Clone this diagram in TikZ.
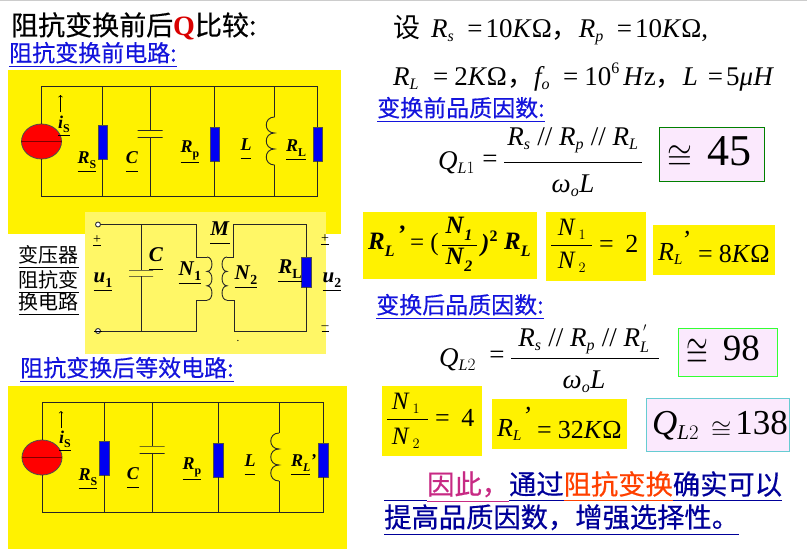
\documentclass[tikz,border=0pt]{standalone}
\usepackage{amsmath,amssymb}
\usepackage{fontspec}
\setmainfont{Liberation Serif}
\usepackage[italic]{mathastext}
\newfontfamily\cjk{Noto Sans CJK SC}
\newfontfamily\cjkm[FakeBold=0.5]{Noto Sans CJK SC}
\usetikzlibrary{shapes.geometric}
\DeclareMathSizes{25}{25}{15}{12}
\DeclareMathSizes{26}{26}{15}{12}
\DeclareMathSizes{27}{27}{16}{12}
\DeclareMathSizes{35}{35}{21}{16}
\newcommand{\sz}[1]{\fontsize{#1}{#1}\selectfont}
\newcommand{\ul}[1]{\underline{\vphantom{阻}#1}}
\newcommand{\lbl}[2]{\underline{\textbf{\textit{#1}}\raisebox{-.25em}{\sz{.66em}\textbf{#2}}}}
\newcommand{\bsub}[2]{\textbf{\textit{#1}}\raisebox{-.3em}{\sz{16}\textbf{\textit{#2}}}}
\newcommand{\apx}[3]{\raisebox{-#3}{\scalebox{#1}[#2]{\sz{10}$\cong$}}}
\newcommand{\eqs}[2]{\hspace{#1}{=}\hspace{#2}}
\definecolor{boxpink}{HTML}{FBE9FD}
\definecolor{linkblue}{HTML}{1414DC}
\tikzset{
  wire/.style={line width=1pt,draw=black!85},
  res/.style={draw=black!70,fill=blue!95!black,line width=.5pt,minimum width=9.5pt,minimum height=34pt,inner sep=0pt},
  plate/.style={draw=black!85,line width=.9pt,minimum width=25pt,minimum height=0pt,inner sep=0pt,outer sep=0pt},
  source/.style={ellipse,draw=black!70,fill=red,line width=.8pt,minimum width=40pt,minimum height=35pt,inner sep=0pt},
  port/.style={circle,draw=black!80,fill=white,line width=.9pt,minimum size=5pt,inner sep=0pt},
  head/.style={font=\cjkm\sz{23},text=linkblue,anchor=west,inner sep=0pt},
  clab/.style={font=\sz{18},inner sep=0pt},
  tlab/.style={font=\sz{21},inner sep=0pt},
  pm/.style={font=\sz{14},inner sep=0pt},
  formula/.style={font=\sz{27},inner sep=0pt,anchor=west},
  frac/.style={font=\sz{27},inner sep=0pt},
  eqn/.style={font=\sz{25},inner sep=0pt},
  eqnw/.style={font=\sz{26},inner sep=0pt,anchor=west},
  side/.style={font=\cjk\sz{20},inner sep=0pt},
  concl/.style={font=\cjkm\sz{27.3},inner sep=0pt,anchor=west,text=blue!60!black},
  yellowbg/.style={fill=yellow,draw=none},
  valbox/.style={fill=boxpink,line width=.8pt,inner sep=0pt},
  coil/.pic={\draw[wire,line width=.9pt] (0,0) .. controls (-11,0) and (-11,16) .. (0,16)
     .. controls (-11,16) and (-11,32) .. (0,32)
     .. controls (-11,32) and (-11,48) .. (0,48);},
}
\begin{document}
\begin{tikzpicture}[x=1pt,y=-1pt]
  \useasboundingbox (0,0) rectangle (807,549);
  \fill[black!20] (0,0) rectangle (807,1);
  % backgrounds
  \fill[yellowbg] (8,70) rectangle (341,234);
  \fill[yellowbg] (8,386) rectangle (347,549);
  \fill[yellow!60!white] (85,212) rectangle (326,354);
  \fill[yellowbg] (363,212) rectangle (537,279);
  \fill[yellowbg] (546,212) rectangle (646,281);
  \fill[yellowbg] (653,225) rectangle (775,275);
  \fill[yellowbg] (382,386) rectangle (482,456);
  \fill[yellowbg] (492,399) rectangle (627,449);

  % titles
  \node[anchor=west,inner sep=0pt,font=\cjkm\sz{27}] (titleA) at (11,26) {阻抗变换前后{\rmfamily\bfseries\sz{28}\textcolor{red!85!black}{Q}}比较:};
  \node[head] (headA) at (9,55) {\ul{阻抗变换前电路:}};
  \node[head] (headB) at (20,370) {\ul{阻抗变换后等效电路:}};
  \node[head] (headC) at (377,110) {\ul{变换前品质因数:}};
  \node[head] (headD) at (376,307) {\ul{变换后品质因数:}};

  % circuit before
  \coordinate (lt) at (41.5,86);
  \coordinate (rt) at (317.5,86);
  \coordinate (lb) at (41.5,196);
  \coordinate (rb) at (317.5,196);
  \node[source] (src) at (41.5,141.5) {};
  \draw[line width=1pt,draw=red!50!black] (src.west) -- (src.east);
  \node[res] (Rs) at (102.5,142) {};
  \node[plate] (Ca) at (150,130.5) {};
  \node[plate] (Cb) at (150,137.5) {};
  \node[res] (Rp) at (214.5,144) {};
  \coordinate (Lt) at (274.5,117);
  \coordinate (Lb) at (274.5,165);
  \pic at (Lt) {coil};
  \node[res] (RL) at (317.5,144) {};
  \draw[wire] (src) -- (lt) -- (rt) -- (RL);
  \draw[wire] (RL) -- (rb) -- (lb) -- (src);
  \draw[wire] (Rs |- lt) -- (Rs);
  \draw[wire] (Rs) -- (Rs |- lb);
  \draw[wire] (Ca |- lt) -- (Ca);
  \draw[wire] (Cb) -- (Cb |- lb);
  \draw[wire] (Rp |- lt) -- (Rp);
  \draw[wire] (Rp) -- (Rp |- lb);
  \draw[wire] (Lt |- lt) -- (Lt);
  \draw[wire] (Lb) -- (Lb |- lb);
  \coordinate (iA) at (60.5,112);
  \coordinate (iB) at (60.5,95);
  \draw[->,line width=.7pt] (iA) -- (iB);
  \node[clab] (labis) at (64,126) {\lbl{i}{S}};
  \node[clab] (labRs) at (87,162) {\lbl{R}{S}};
  \node[clab] (labC) at (132,162) {\lbl{C}{}};
  \node[clab] (labRp) at (190,152) {\lbl{R}{p}};
  \node[clab] (labL) at (246,149) {\lbl{L}{}};
  \node[clab] (labRL) at (296,150) {\lbl{R}{L}};

  % transformer circuit
  \node[port] (p1) at (98,224.5) {};
  \node[port] (p2) at (98,331) {};
  \coordinate (a1) at (196,224.5);
  \coordinate (a2) at (196,257);
  \coordinate (a3) at (207,257);
  \coordinate (a4) at (207,300);
  \coordinate (a5) at (196,300);
  \coordinate (a6) at (196,331);
  \node[plate,minimum width=24pt] (Cc) at (141,270) {};
  \node[plate,minimum width=24pt] (Cd) at (141,276) {};
  \draw[wire] (p1) -- (a1) -- (a2) -- (a3);
  \draw[wire] (a4) -- (a5) -- (a6) -- (p2);
  \draw[wire] (Cc |- p1) -- (Cc);
  \draw[wire] (Cd) -- (Cd |- p2);
  \pic[xscale=-.6,yscale=.9] at (a3) {coil};
  \coordinate (b1) at (233.5,224.5);
  \coordinate (b2) at (233.5,257);
  \coordinate (b3) at (227,257);
  \coordinate (b4) at (227,300);
  \coordinate (b5) at (234,300);
  \coordinate (b6) at (234,331.5);
  \coordinate (b7) at (306,224.5);
  \coordinate (b8) at (306,331.5);
  \node[res,minimum height=30pt] (RLb) at (306,272) {};
  \pic[xscale=.6,yscale=.9] at (b3) {coil};
  \draw[wire] (b3) -- (b2) -- (b1) -- (b7) -- (RLb);
  \draw[wire] (RLb) -- (b8) -- (b6) -- (b5) -- (b4);
  \node[tlab] (labM) at (220,233) {\lbl{M}{}};
  \node[tlab] (labCb) at (156,259) {\lbl{C}{}};
  \node[tlab] (labN1) at (190,273) {\lbl{N}{1}};
  \node[tlab] (labN2) at (246,277) {\lbl{N}{2}};
  \node[tlab] (labRLb) at (290,271) {\lbl{R}{L}};
  \node[tlab] (labu1) at (103,282) {\lbl{u}{1}};
  \node[tlab] (labu2) at (332,282) {\lbl{u}{2}};
  \node[pm] (plusA) at (97,241) {\underline{+}};
  \node[pm] (plusB) at (325,240) {\underline{+}};
  \node[pm] (minusB) at (325,329) {\underline{–}};
  \node[pm] (underA) at (98,331) {\underline{\hspace{8pt}}};
  \node[font=\sz{11},inner sep=0pt] (dotA) at (238,341) {.};
  \node[side] (sideA) at (49,257) {\underline{变压器}};
  \node[side] (sideB) at (49,282) {\underline{阻抗变}};
  \node[side] (sideC) at (49,304) {\underline{换电路}};

  % circuit after
  \coordinate (clt) at (42,402);
  \coordinate (crt) at (323,402);
  \coordinate (clb) at (42,512.5);
  \coordinate (crb) at (323,512.5);
  \node[source] (srcb) at (42,457.5) {};
  \draw[line width=1pt,draw=red!50!black] (srcb.west) -- (srcb.east);
  \node[res] (Rsb) at (104,458) {};
  \node[plate] (Ce) at (152,446) {};
  \node[plate] (Cf) at (152,453.5) {};
  \node[res] (Rpb) at (218,460) {};
  \coordinate (Ltb) at (279,433);
  \coordinate (Lbb) at (279,481);
  \pic at (Ltb) {coil};
  \node[res] (RLc) at (323,460) {};
  \draw[wire] (srcb) -- (clt) -- (crt) -- (RLc);
  \draw[wire] (RLc) -- (crb) -- (clb) -- (srcb);
  \draw[wire] (Rsb |- clt) -- (Rsb);
  \draw[wire] (Rsb) -- (Rsb |- clb);
  \draw[wire] (Ce |- clt) -- (Ce);
  \draw[wire] (Cf) -- (Cf |- clb);
  \draw[wire] (Rpb |- clt) -- (Rpb);
  \draw[wire] (Rpb) -- (Rpb |- clb);
  \draw[wire] (Ltb |- clt) -- (Ltb);
  \draw[wire] (Lbb) -- (Lbb |- clb);
  \coordinate (iC) at (61,428);
  \coordinate (iD) at (61,411);
  \draw[->,line width=.7pt] (iC) -- (iD);
  \node[clab] (labisb) at (65,441) {\lbl{i}{S}};
  \node[clab] (labRsb) at (88,479) {\lbl{R}{S}};
  \node[clab] (labCc) at (133,478) {\lbl{C}{}};
  \node[clab] (labRpb) at (192,469) {\lbl{R}{p}};
  \node[clab] (labLb) at (250,465) {\lbl{L}{}};
  \node[clab,anchor=west] (labRLc) at (291,465) {\lbl{R}{\textit{L}}\textbf{\textit{'}}};

  % given values
  \node[formula] (givenA) at (393,30) {{\cjk 设}\hspace{11pt}$R_s$\eqs{13pt}{3pt}10\textit{K}Ω{\cjk ，}$R_p$\eqs{13pt}{3pt}10\textit{K}Ω,};
  \node[formula] (givenB) at (393,77) {$R_L$\eqs{14pt}{6pt}2\textit{K}Ω{\cjk ，}$f_o$\eqs{13pt}{6pt}10\raisebox{.45em}{\sz{16}6}\hspace{4pt}\textit{H}z{\cjk ，}$L$\eqs{10pt}{3pt}5\textit{μH}};

  % Q before
  \node[frac,anchor=west] (QA) at (438,163) {$Q_{L1}$};
  \node[frac] (eqA) at (490,161) {=};
  \node[frac] (numA) at (573,140) {$R_s$ // $R_p$ // $R_L$};
  \node[frac] (denA) at (573,186) {\textit{ω}$_oL$};
  \coordinate (barA) at (504,162);
  \coordinate (barB) at (642,162);
  \draw[line width=.8pt] (barA) -- (barB);
  \node[draw=green!50!black,valbox,minimum width=105pt,minimum height=54pt] (valA) at (711.5,154) {};
  \node[font=\sz{44},inner sep=0pt,anchor=west] (txtA) at (667,153) {\apx{3.2}{3.5}{3pt}\hspace{15pt}45};

  % impedance formulas
  \node[eqn,anchor=west] (frmA) at (368,245) {\bsub{R}{L}};
  \node[eqn,anchor=west] (frmAp) at (397,234) {\textbf{\textit{'}}};
  \node[eqn,anchor=west] (frmAe) at (410,244) {=\hspace{6pt}(};
  \node[eqn] (nA) at (459,229) {\bsub{N}{1}};
  \node[eqn] (nB) at (459,260) {\bsub{N}{2}};
  \coordinate (barC) at (442,245);
  \coordinate (barD) at (477,245);
  \draw[line width=.9pt] (barC) -- (barD);
  \node[eqn,anchor=west] (frmB) at (481,244) {\textbf{\textit{)}}\raisebox{.4em}{\sz{16}\textbf{2}}};
  \node[eqn,anchor=west] (frmBb) at (504,245) {\bsub{R}{L}};

  \node[eqn] (nC) at (572,229) {$N_{\;1}$};
  \node[eqn] (nD) at (572,262) {$N_{\;2}$};
  \coordinate (barE) at (551,245);
  \coordinate (barF) at (592,245);
  \draw[line width=.7pt] (barE) -- (barF);
  \node[eqnw] (frmC) at (599,244) {=\;\,2};
  \node[eqnw] (frmD) at (658,254) {$R_L$};
  \node[eqnw] (frmDp) at (681,240) {\textit{'}};
  \node[eqnw] (frmDe) at (698,254) {=\hspace{6pt}8\textit{K}Ω};

  % Q after
  \node[frac,anchor=west] (QB) at (439,360) {$Q_{L2}$};
  \node[frac] (eqB) at (497,357) {=};
  \node[frac] (numB) at (584,339) {$R_s$ // $R_p$ // $R_L^{\,'}$};
  \node[frac] (denB) at (584,382) {\textit{ω}$_oL$};
  \coordinate (barG) at (511,358);
  \coordinate (barH) at (659,358);
  \draw[line width=.8pt] (barG) -- (barH);
  \node[draw=green!80!white,valbox,minimum width=99pt,minimum height=48pt] (valB) at (727.5,352) {};
  \node[font=\sz{37},inner sep=0pt,anchor=west] (txtB) at (686,352) {\apx{2.8}{4.2}{5pt}\hspace{15pt}98};

  \node[eqn] (nE) at (406,403) {$N_{\;1}$};
  \node[eqn] (nF) at (406,438) {$N_{\;2}$};
  \coordinate (barI) at (387,419);
  \coordinate (barJ) at (428,419);
  \draw[line width=.7pt] (barI) -- (barJ);
  \node[eqnw] (frmE) at (435,418) {=\;\,4};
  \node[eqnw] (frmF) at (497,430) {$R_L$};
  \node[eqnw] (frmFp) at (522,416) {\textit{'}};
  \node[eqnw] (frmFe) at (537,430) {=\hspace{6pt}32\textit{K}Ω};
  \node[draw=cyan!70!green!60,valbox,minimum width=143pt,minimum height=53pt] (valC) at (717.5,424.5) {};
  \node[font=\sz{35},inner sep=0pt,anchor=west] (txtC) at (652,426) {$Q_{L2}$\hspace{12pt}\apx{2.6}{2.4}{2pt}\hspace{4pt}138};

  % conclusion
  \node[concl] (endA) at (384,487) {\ul{\hspace{43pt}}\textcolor{magenta!80!black}{\ul{因此，}}\ul{通过}\textcolor{red!75!yellow}{\ul{阻抗变换}}\ul{确实可以}};
  \node[concl] (endB) at (384,520) {\ul{提高品质因数，增强选择性。}};
\end{tikzpicture}
\end{document}
